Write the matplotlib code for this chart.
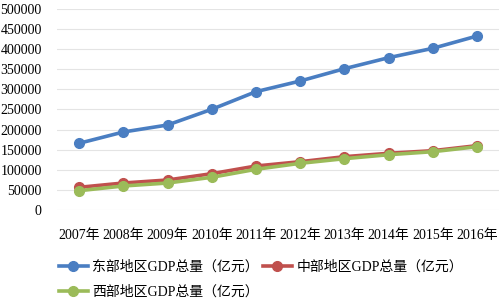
import matplotlib
matplotlib.use("Agg")
import matplotlib.pyplot as plt

plt.rcParams['font.family'] = ['Liberation Serif', 'Noto Sans CJK SC', 'DejaVu Sans']

years = ["2007年", "2008年", "2009年", "2010年", "2011年", "2012年", "2013年", "2014年", "2015年", "2016年"]
east = [165900, 194000, 211400, 250400, 294300, 320800, 351400, 378800, 402100, 432700]
central = [56400, 67100, 74600, 90300, 109400, 120100, 132600, 141000, 147500, 160000]
west = [48000, 59700, 67100, 81300, 101200, 116100, 127600, 137500, 145000, 157400]
names = ["东部地区GDP总量（亿元）", "中部地区GDP总量（亿元）", "西部地区GDP总量（亿元）"]
colors = ["#4A7EC2", "#C0504D", "#9BBB59"]

fig = plt.figure(figsize=(5, 3.05), dpi=100)
ax = fig.add_axes([0.114, 0.3115, 0.884, 0.659])

x = list(range(len(years)))
lines = []
for vals, c, n in zip([east, central, west], colors, names):
    l, = ax.plot(x, vals, color=c, lw=2.6, marker='o', ms=7, label=n, zorder=3)
    lines.append(l)

ax.set_xlim(-0.5, len(years) - 0.5)
ax.set_ylim(0, 500000)
ax.set_yticks(range(0, 500001, 50000))
ax.set_yticklabels([str(v) for v in range(0, 500001, 50000)], fontsize=10)
ax.set_xticks(x)
ax.set_xticklabels(years, fontsize=10)
ax.tick_params(length=0, pad=11)
ax.tick_params(axis='x', pad=14)
for s in ax.spines.values():
    s.set_visible(False)
ax.grid(axis='y', color='#E4E4E4', lw=0.8, zorder=0)
ax.set_axisbelow(True)

fig.legend([lines[0], lines[2], lines[1]], [names[0], names[2], names[1]],
           ncol=2, loc='lower left', bbox_to_anchor=(0.105, 0.0), frameon=False,
           fontsize=10, handlelength=2.1, handletextpad=0.3, columnspacing=0.3,
           labelspacing=0.85, borderaxespad=0.05)

fig.savefig("out.png", dpi=100)
